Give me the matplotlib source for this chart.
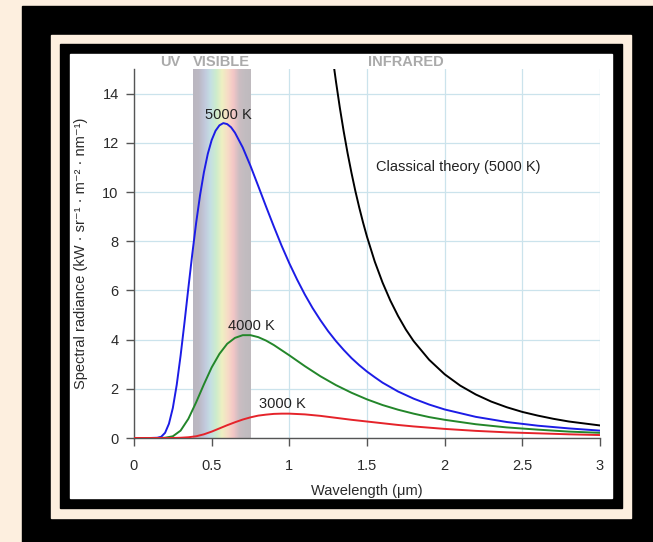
import matplotlib.pyplot as plt
import numpy as np
from matplotlib.patches import Rectangle
from matplotlib.colors import LinearSegmentedColormap

plt.rcParams['font.family'] = ['Liberation Sans', 'DejaVu Sans']

# values (wavelength in um, radiance in kW/sr/m2/nm)
wavelength_5000 = [0, 0.1, 0.15, 0.175, 0.2, 0.225, 0.25, 0.275, 0.3, 0.325, 0.35, 0.375,
                   0.4, 0.425, 0.45, 0.475, 0.5, 0.525, 0.55, 0.575, 0.6, 0.625, 0.65,
                   0.7, 0.75, 0.8, 0.85, 0.9, 0.95, 1.0, 1.05, 1.1, 1.15, 1.2, 1.25, 1.3,
                   1.35, 1.4, 1.45, 1.5, 1.55, 1.6, 1.7, 1.8, 1.9, 2.0, 2.2, 2.4, 2.6,
                   2.8, 3.0]
radiance_5000 = [0, 0, 0.01, 0.05, 0.21, 0.58, 1.22, 2.16, 3.35, 4.69, 6.10, 7.47,
                 8.74, 9.86, 10.80, 11.55, 12.11, 12.49, 12.71, 12.80, 12.76, 12.63, 12.41,
                 11.81, 11.06, 10.24, 9.41, 8.60, 7.82, 7.10, 6.44, 5.83, 5.28, 4.79, 4.34, 3.94,
                 3.58, 3.25, 2.96, 2.70, 2.47, 2.25, 1.89, 1.60, 1.36, 1.16, 0.86, 0.65, 0.50,
                 0.39, 0.30]

wavelength = [0, 0.15, 0.2, 0.25, 0.3, 0.35, 0.4, 0.45, 0.5, 0.55, 0.6, 0.65, 0.7, 0.75,
              0.8, 0.85, 0.9, 0.95, 1.0, 1.1, 1.2, 1.3, 1.4, 1.5, 1.6, 1.7, 1.8, 1.9,
              2.0, 2.2, 2.4, 2.6, 2.8, 3.0]
radiance_4000 = [0, 0, 0.01, 0.07, 0.30, 0.78, 1.45, 2.18, 2.87, 3.42, 3.83, 4.07, 4.18, 4.18,
                 4.10, 3.96, 3.78, 3.57, 3.36, 2.92, 2.51, 2.15, 1.84, 1.57, 1.34, 1.15, 0.99, 0.85,
                 0.74, 0.56, 0.43, 0.34, 0.26, 0.21]
radiance_3000 = [0, 0, 0, 0, 0.01, 0.03, 0.07, 0.15, 0.26, 0.39, 0.52, 0.64, 0.75, 0.84,
                 0.91, 0.95, 0.98, 0.99, 0.99, 0.96, 0.90, 0.82, 0.74, 0.67, 0.60, 0.53, 0.47, 0.42,
                 0.37, 0.29, 0.23, 0.19, 0.15, 0.12]

wavelength_classical = [1.28, 1.3, 1.325, 1.35, 1.375, 1.4, 1.425, 1.45, 1.475, 1.5, 1.55, 1.6,
                        1.65, 1.7, 1.75, 1.8, 1.9, 2.0, 2.1, 2.2, 2.3, 2.4, 2.5, 2.6, 2.7,
                        2.8, 2.9, 3.0]
radiance_classical = [15.42, 14.50, 13.43, 12.46, 11.58, 10.78, 10.04, 9.37, 8.75, 8.18, 7.17, 6.32,
                      5.59, 4.96, 4.41, 3.94, 3.18, 2.59, 2.13, 1.77, 1.48, 1.25, 1.06, 0.91, 0.78,
                      0.67, 0.59, 0.51]

visible_range = (0.38, 0.75)
band_colors = ['#bab6bf', '#bcb9c4', '#c2c8dc', '#c4dfe4', '#cdeccc', '#eef0c2',
               '#f7dcc6', '#f3c6c6', '#cbbdc2', '#c2bcc0', '#bfbabe']

W, H = 653, 542
fig = plt.figure(figsize=(W / 100, H / 100), dpi=100, facecolor='#fdefdf')


def frame(x0, y0, x1, y1, color):
    # rectangle given in pixel coords measured from the top-left corner
    fig.patches.append(Rectangle((x0 / W, 1 - y1 / H), (x1 - x0) / W, (y1 - y0) / H,
                                 transform=fig.transFigure, color=color, zorder=-10))


frame(22, 6, 653, 542, 'black')
frame(51, 35, 631, 518, '#fdefdf')
frame(60, 44, 622, 508, 'black')
frame(70, 54, 612, 498, 'white')

ax = fig.add_axes([134 / W, 1 - 438 / H, 466 / W, 369 / H])
ax.set_facecolor('none')

cmap = LinearSegmentedColormap.from_list('visible', band_colors)
ax.imshow(np.linspace(0, 1, 200).reshape(1, -1), cmap=cmap, aspect='auto',
          extent=(visible_range[0], visible_range[1], 0, 15), zorder=1)

ax.plot(wavelength_5000, radiance_5000, color='#1c1ce6', lw=1.4, zorder=3)
ax.plot(wavelength, radiance_4000, color='#23862a', lw=1.4, zorder=3)
ax.plot(wavelength, radiance_3000, color='#e5232a', lw=1.4, zorder=3)
ax.plot(wavelength_classical, radiance_classical, color='black', lw=1.4, zorder=3)

ax.set_xlim(0, 3)
ax.set_ylim(0, 15)
ax.set_xticks([0, 0.5, 1, 1.5, 2, 2.5, 3])
ax.set_xticklabels(['0', '0.5', '1', '1.5', '2', '2.5', '3'])
ax.set_yticks([0, 2, 4, 6, 8, 10, 12, 14])
ax.grid(True, color='#cbe3ec', lw=0.9, zorder=0)
ax.set_axisbelow(True)

for s in ['top', 'right']:
    ax.spines[s].set_visible(False)
for s in ['left', 'bottom']:
    ax.spines[s].set_color('#555555')
    ax.spines[s].set_linewidth(1.0)
ax.tick_params(direction='out', length=6, width=1.0, color='#555555',
               labelcolor='#2a2a2a', labelsize=10.5)
ax.tick_params(axis='x', pad=9)
ax.tick_params(axis='y', pad=5)

ax.set_xlabel('Wavelength (μm)', fontsize=10.5, color='#2a2a2a', labelpad=8)
ax.set_ylabel('Spectral radiance (kW · sr⁻¹ · m⁻² · nm⁻¹)', fontsize=10.5,
              color='#2a2a2a', labelpad=10)

ax.text(0.605, 13.13, '5000 K', fontsize=10.5, ha='center', va='center', color='#222222')
ax.text(0.753, 4.55, '4000 K', fontsize=10.5, ha='center', va='center', color='#222222')
ax.text(0.953, 1.38, '3000 K', fontsize=10.5, ha='center', va='center', color='#222222')
ax.text(1.558, 11.03, 'Classical theory (5000 K)', fontsize=10.5, ha='left', va='center',
        color='#222222')

trans = ax.get_xaxis_transform()
ax.text(0.235, 1.019, 'UV', transform=trans, fontsize=10.5, fontweight='bold',
        color='#aaaaaa', ha='center', va='center')
ax.text(0.565, 1.019, 'VISIBLE', transform=trans, fontsize=10.5, fontweight='bold',
        color='#aaaaaa', ha='center', va='center')
ax.text(1.75, 1.019, 'INFRARED', transform=trans, fontsize=10.5, fontweight='bold',
        color='#aaaaaa', ha='center', va='center')

fig.savefig('out.png', dpi=100, facecolor=fig.get_facecolor())
